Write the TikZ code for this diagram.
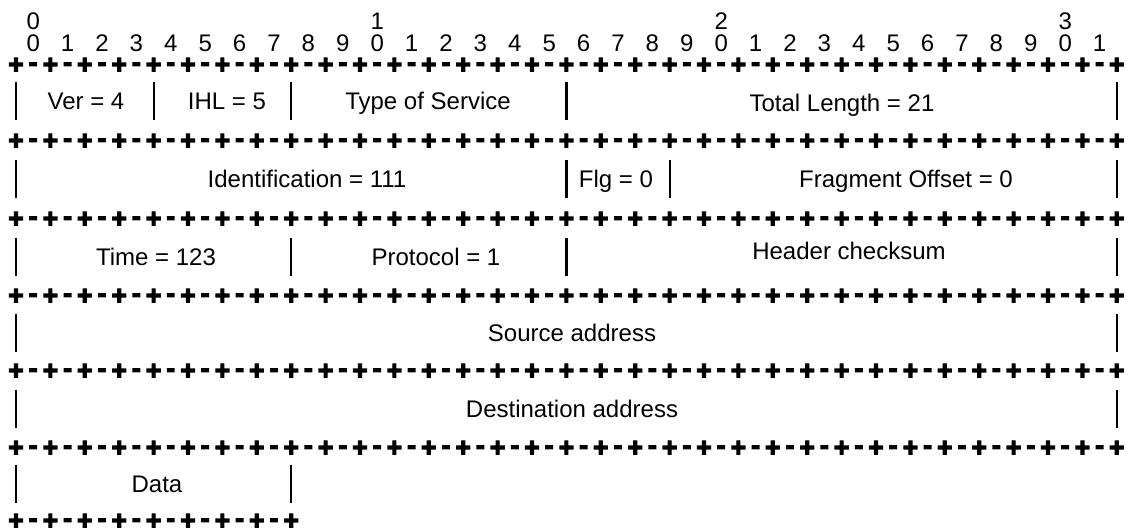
\documentclass[tikz,border=0pt]{standalone}
\usepackage{fontspec}
\setmainfont{Liberation Sans}
\newfontface\plusfont{Liberation Sans Bold}[FakeBold=5]
\begin{document}
\begin{tikzpicture}[x=1pt,y=-1pt,
  lbl/.style={font=\fontsize{24}{28}\selectfont, inner sep=0pt, anchor=base},
  dig/.style={font=\fontsize{24}{28}\selectfont, inner sep=0pt, anchor=center},
  pmark/.style={font=\fontsize{26}{28}\plusfont, inner sep=0pt, anchor=base},
  bar/.style={line width=2.2pt}]
\useasboundingbox (0,0) rectangle (1128,532);
\def\xz{16}
\def\st{34.4}
% bit numbers
\foreach \t/\i in {0/0,1/10,2/20,3/30} {
  \node[dig] (tens\t) at ({\xz+\st*(\i+0.5)}, 21.5) {\t};
}
\foreach \i in {0,...,31} {
  \pgfmathtruncatemacro{\u}{mod(\i,10)}
  \node[dig] (unit\i) at ({\xz+\st*(\i+0.5)}, 43.5) {\u};
}
% separator lines
\foreach \r/\y in {0/64,1/140,2/218,3/295,4/370,5/447} {
  \foreach \k in {0,...,32} {
    \node[pmark] (p\r-\k) at ({\xz+\st*\k}, {\y+9.2}) {+};
  }
  \foreach \k in {0,...,31} {
    \node[pmark] (m\r-\k) at ({\xz+\st*(\k+0.5)}, {\y+7}) {-};
  }
}
\foreach \k in {0,...,8} {
  \node[pmark] (p6-\k) at ({\xz+\st*\k}, {520+9.2}) {+};
}
\foreach \k in {0,...,7} {
  \node[pmark] (m6-\k) at ({\xz+\st*(\k+0.5)}, {520+7}) {-};
}
% vertical bars
\foreach \m/\bits in {101.5/{0,4,8,16,32}, 179/{0,16,19,32}, 256.5/{0,8,16,32}, 332.5/{0,32}, 408.5/{0,32}, 483.5/{0,8}} {
  \foreach \k in \bits {
    \draw[bar] ({\xz+\st*\k}, {\m-19}) -- ({\xz+\st*\k}, {\m+19});
  }
}
% field labels
\node[lbl] (ver)   at (86, 110) {Ver = 4};
\node[lbl] (ihl)   at (227, 110) {IHL = 5};
\node[lbl] (tos)   at (428, 110) {Type of Service};
\node[lbl] (tlen)  at (842, 111.5) {Total Length = 21};
\node[lbl] (ident) at (307, 187.5) {Identification = 111};
\node[lbl] (flg)   at (616, 187.5) {Flg = 0};
\node[lbl] (frag)  at (906, 187.5) {Fragment Offset = 0};
\node[lbl] (ttl)   at (156, 265) {Time = 123};
\node[lbl] (proto) at (436, 265) {Protocol = 1};
\node[lbl] (csum)  at (849, 259) {Header checksum};
\node[lbl] (src)   at (572, 341) {Source address};
\node[lbl] (dst)   at (572, 417) {Destination address};
\node[lbl] (data)  at (157, 492.5) {Data};
\end{tikzpicture}
\end{document}
